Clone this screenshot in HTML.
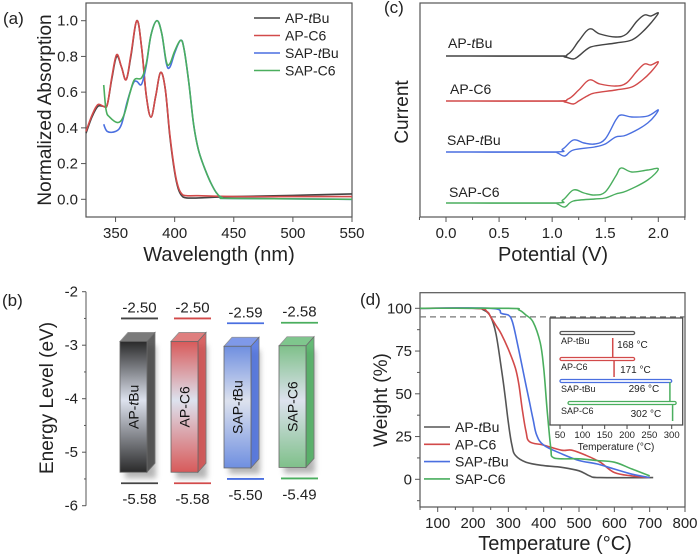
<!DOCTYPE html>
<html><head><meta charset="utf-8"><style>
html,body{margin:0;padding:0;background:#fff;}
svg{display:block;font-family:"Liberation Sans",Arial,sans-serif;}
</style></head><body>
<svg id="fig" width="700" height="555" viewBox="0 0 700 555">
<defs>
<linearGradient id="gK" x1="0" y1="0" x2="0" y2="1"><stop offset="0" stop-color="#2a2a2a"/><stop offset="0.45" stop-color="#dde2ee"/><stop offset="1" stop-color="#2a2a2a"/></linearGradient>
<linearGradient id="gR" x1="0" y1="0" x2="0" y2="1"><stop offset="0" stop-color="#d85a5a"/><stop offset="0.45" stop-color="#dde2ee"/><stop offset="1" stop-color="#d85a5a"/></linearGradient>
<linearGradient id="gB" x1="0" y1="0" x2="0" y2="1"><stop offset="0" stop-color="#6f8fe0"/><stop offset="0.45" stop-color="#dde2ee"/><stop offset="1" stop-color="#6f8fe0"/></linearGradient>
<linearGradient id="gG" x1="0" y1="0" x2="0" y2="1"><stop offset="0" stop-color="#7fc08a"/><stop offset="0.45" stop-color="#dde2ee"/><stop offset="1" stop-color="#7fc08a"/></linearGradient>
<filter id="sh" x="-50%" y="-50%" width="200%" height="200%"><feGaussianBlur stdDeviation="3"/></filter>
</defs>
<g id="pa"></g>
<g id="pb"></g>
<g id="pc"></g>
<g id="pd"></g>
</svg>
<script>
// ---------- data ----------
// (a) absorption
const absAPtBuX=[325,330,335,340,343,347,351,355,359,363,368,372,376,380,384,388,392,396,400,403,406,410,420,450,500,550];
const absAPtBuY=[0.37,0.46,0.52,0.52,0.53,0.68,0.80,0.74,0.67,0.80,1.0,0.85,0.58,0.46,0.58,0.71,0.62,0.35,0.15,0.06,0.02,0.008,0.008,0.015,0.022,0.03];
const absAPC6X=[325,330,335,340,343,347,351,355,359,363,368,372,376,380,384,388,392,396,400,403,406,410,420,450,500,550];
const absAPC6Y=[0.38,0.47,0.53,0.52,0.53,0.69,0.81,0.74,0.67,0.81,1.0,0.85,0.58,0.46,0.58,0.71,0.62,0.36,0.16,0.07,0.03,0.02,0.02,0.015,0.015,0.015];
const absSAPtBuX=[340,343,350,355,360,365,368,372,376,380,385,389,393,396,400,405,408,412,416,420,425,430,435,440,450,550];
const absSAPtBuY=[0.42,0.38,0.38,0.42,0.55,0.65,0.66,0.645,0.75,0.92,1.0,0.93,0.76,0.74,0.82,0.89,0.84,0.65,0.42,0.28,0.18,0.10,0.04,0.01,0.005,0.0];
const absSAPC6X=[340,342,345,352,357,362,366,372,376,380,385,389,393,396,400,405,408,412,416,420,425,430,435,440,450,550];
const absSAPC6Y=[0.64,0.50,0.46,0.43,0.47,0.59,0.67,0.68,0.76,0.92,1.0,0.93,0.77,0.76,0.83,0.89,0.84,0.65,0.42,0.28,0.18,0.10,0.04,0.01,0.005,0.0];
const absXTicks=[350,400,450,500,550];
const absYTicks=[0.0,0.2,0.4,0.6,0.8,1.0];
// (b) energy levels
const molecules=["AP-tBu","AP-C6","SAP-tBu","SAP-C6"];
const lumo=[-2.50,-2.50,-2.59,-2.58];
const homo=[-5.58,-5.58,-5.50,-5.49];
const eTicks=[-2,-3,-4,-5,-6];
// (c) CV: forward/reverse scans, current in arbitrary units
const cvFwdV=[0,1.0,1.15,1.25,1.35,1.45,1.6,1.7,1.8,1.87,1.93,2.0];
const cvAPtBuF=[0,0,2,15,27,22,19,22,35,41,40,43];
const cvAPC6F=[0,0,2,11,21,17,15,18,30,37,36,39];
const cvRevV=[1.93,1.85,1.75,1.6,1.4,1.33,1.25,1.2,1.12,1.0,0];
const cvAPtBuR=[33,24,16,13,10,7,0,-3,-1,0,0];
const cvAPC6R=[29,21,14,11,8,5,0,-3,-1,0,0];
const cvSFwdV=[0,1.0,1.1,1.2,1.3,1.4,1.5,1.6,1.65,1.75,1.9,2.0];
const cvSAPtBuF=[0,0,3,12,9,8,13,32,37,35,36,42];
const cvSAPC6F=[0,0,3,13,10,8,11,27,35,31,33,34];
const cvSRevV=[1.9,1.7,1.6,1.5,1.4,1.2,1.12,1.05,1.0,0.5,0];
const cvSAPtBuR=[29,17,15,8,5,2,-4,-1,0,0,0];
const cvSAPC6R=[23,12,9,5,4,2,-4,-1,0,0,0];
const cvXTicks=[0.0,0.5,1.0,1.5,2.0];
// (d) TGA
const tgaAPtBuX=[50,200,230,250,265,280,290,300,310,320,350,400,450,500,530,560,710];
const tgaAPtBuY=[100,100,99,95,85,65,50,33,20,14,10,8,7,5,2,1,1];
const tgaAPC6X=[50,210,240,250,265,280,300,320,330,340,350,360,400,450,480,520,560,600,650,700];
const tgaAPC6Y=[100,100,98,95,90,85,76,65,55,40,28,22,20,17,17,14,10,4,2,1];
const tgaSAPtBuX=[50,250,280,300,310,320,340,350,360,370,380,400,450,500,550,600,650,700];
const tgaSAPtBuY=[100,100,97,96,93,85,65,55,45,35,26,20,15,11,9,6,3,1];
const tgaSAPC6X=[50,300,330,350,370,390,400,410,420,425,450,500,550,600,650,700];
const tgaSAPC6Y=[100,100,99,96,92,80,65,40,18,13,12,12,11,10,6,2];
const tgaXTicks=[100,200,300,400,500,600,700,800];
const tgaYTicks=[0,25,50,75,100];
// inset DSC
const dscNames=["AP-tBu","AP-C6","SAP-tBu","SAP-C6"];
const dscStart=[50,50,50,68];
const dscEnd=[217,217,300,310];
const dscPeakT=[null,168,null,296];
const dscPeakT2=[null,171,null,302];
const dscXTicks=[50,100,150,200,250,300];

const C={k:"#444",r:"#d24a4a",b:"#4a6fe0",g:"#4aae5e"};
const NS="http://www.w3.org/2000/svg";
function mk(parent,tag,attrs,text){const e=document.createElementNS(NS,tag);for(const k in attrs)e.setAttribute(k,attrs[k]);if(text!==undefined)e.textContent=text;parent.appendChild(e);return e;}
function lin(d0,d1,r0,r1){return v=>r0+(v-d0)*(r1-r0)/(d1-d0);}
function smooth(pts,t){t=t===undefined?0.18:t;let d="M"+pts[0][0].toFixed(1)+","+pts[0][1].toFixed(1);
 for(let i=0;i<pts.length-1;i++){const p0=pts[i-1]||pts[i],p1=pts[i],p2=pts[i+1],p3=pts[i+2]||p2;
  const c1=[p1[0]+(p2[0]-p0[0])*t,p1[1]+(p2[1]-p0[1])*t],c2=[p2[0]-(p3[0]-p1[0])*t,p2[1]-(p3[1]-p1[1])*t];
  d+="C"+c1[0].toFixed(1)+","+c1[1].toFixed(1)+" "+c2[0].toFixed(1)+","+c2[1].toFixed(1)+" "+p2[0].toFixed(1)+","+p2[1].toFixed(1);}
 return d;}
function pathD(xs,ys,sx,sy){return smooth(xs.map((x,i)=>[sx(x),sy(ys[i])]));}

// ---------- panel a ----------
(function(){
const g=document.getElementById('pa');
const sx=lin(325,550,86,352), sy=lin(0,1,199.3,20.7);
let e=mk(g,'rect',{x:86,y:3,width:266,height:214,fill:'none',stroke:'#555','stroke-width':1.2});

absXTicks.forEach(t=>{mk(g,'line',{x1:sx(t),x2:sx(t),y1:217,y2:222,stroke:'#555'});
 e=mk(g,'text',{x:sx(t),y:238,'font-size':15,'text-anchor':'middle',fill:'#222'},String(t));
 });
absYTicks.forEach(t=>{mk(g,'line',{x1:81,x2:86,y1:sy(t),y2:sy(t),stroke:'#555'});
 e=mk(g,'text',{x:78,y:sy(t)+5,'font-size':15,'text-anchor':'end',fill:'#222'},t.toFixed(1));
 });
const series=[[absAPtBuX,absAPtBuY,C.k,'AP-tBu'],[absAPC6X,absAPC6Y,C.r,'AP-C6'],[absSAPtBuX,absSAPtBuY,C.b,'SAP-tBu'],[absSAPC6X,absSAPC6Y,C.g,'SAP-C6']];
series.forEach(s=>{e=mk(g,'path',{d:pathD(s[0],s[1],sx,sy),fill:'none',stroke:s[2],'stroke-width':1.6});
 });
const labs=[['AP-','t','Bu',C.k],['AP-C6','','',C.r],['SAP-','t','Bu',C.b],['SAP-C6','','',C.g]];
labs.forEach((l,i)=>{const y=18+i*17.5;
 mk(g,'line',{x1:254,x2:280,y1:y,y2:y,stroke:l[3],'stroke-width':1.6});
 e=mk(g,'text',{x:285,y:y+5,'font-size':14,fill:'#222'});
 
 mk(e,'tspan',{},l[0]);if(l[1]){mk(e,'tspan',{'font-style':'italic'},l[1]);mk(e,'tspan',{},l[2]);}});
e=mk(g,'text',{x:0,y:0,'font-size':19,'text-anchor':'middle',fill:'#222',transform:'translate(51,110) rotate(-90)'},'Normalized Absorption');

e=mk(g,'text',{x:219,y:261,'font-size':20,'text-anchor':'middle',fill:'#222'},'Wavelength (nm)');

e=mk(g,'text',{x:3,y:24,'font-size':17,fill:'#222'},'(a)');

})();

// ---------- panel b ----------
(function(){
const g=document.getElementById('pb');
const sy=lin(-2,-6,291.7,505.7);
let e=mk(g,'line',{x1:86,x2:86,y1:sy(-2),y2:sy(-6),stroke:'#555'});

eTicks.forEach(t=>{mk(g,'line',{x1:82,x2:86,y1:sy(t),y2:sy(t),stroke:'#555'});
 if(t>-6)mk(g,'line',{x1:84,x2:86,y1:sy(t-0.5),y2:sy(t-0.5),stroke:'#555'});
 e=mk(g,'text',{x:78,y:sy(t)+5,'font-size':15,'text-anchor':'end',fill:'#222'},String(t));
 });
e=mk(g,'text',{x:0,y:0,'font-size':19,'text-anchor':'middle',fill:'#222',transform:'translate(53,398) rotate(-90)'},'Energy Level (eV)');

e=mk(g,'text',{x:2,y:306,'font-size':17,fill:'#222'},'(b)');

const cols=[C.k,C.r,C.b,C.g], grads=['gK','gR','gB','gG'];
const lineX=[121,174,227,281];
const bx=[120,171,224,279];
molecules.forEach((m,i)=>{
 const x=bx[i], w=27, top=sy(lumo[i])+23, bot=sy(homo[i])-11, dx=8, dy=9;
 mk(g,'rect',{x:x+5,y:top+4,width:w+4,height:bot-top+2,fill:'#777',opacity:0.55,filter:'url(#sh)'});
 e=mk(g,'polygon',{points:`${x},${top} ${x+dx},${top-dy} ${x+w+dx},${top-dy} ${x+w},${top}`,fill:cols[i],opacity:0.7,stroke:'#666','stroke-width':0.8});
 
 e=mk(g,'polygon',{points:`${x+w},${top} ${x+w+dx},${top-dy} ${x+w+dx},${bot-dy} ${x+w},${bot}`,fill:cols[i],opacity:0.85,stroke:'#666','stroke-width':0.8});
 
 e=mk(g,'rect',{x:x,y:top,width:w,height:bot-top,fill:`url(#${grads[i]})`,stroke:'#666','stroke-width':0.8});
 
 const cx=x+w/2, cy=(top+bot)/2;
 e=mk(g,'text',{x:0,y:0,'font-size':14,'text-anchor':'middle',fill:'#111',transform:`translate(${cx+5},${cy}) rotate(-90)`});
 
 if(m.indexOf('tBu')>=0){mk(e,'tspan',{},m.replace('tBu',''));mk(e,'tspan',{'font-style':'italic'},'t');mk(e,'tspan',{},'Bu');} else e.textContent=m;
 const lx=lineX[i];
 e=mk(g,'line',{x1:lx,x2:lx+37,y1:sy(lumo[i]),y2:sy(lumo[i]),stroke:cols[i],'stroke-width':1.8});
 
 e=mk(g,'line',{x1:lx,x2:lx+37,y1:sy(homo[i]),y2:sy(homo[i]),stroke:cols[i],'stroke-width':1.8});
 
 e=mk(g,'text',{x:lx+18.5,y:sy(lumo[i])-6,'font-size':15,'text-anchor':'middle',fill:'#222'},lumo[i].toFixed(2));
 
 e=mk(g,'text',{x:lx+18.5,y:sy(homo[i])+21,'font-size':15,'text-anchor':'middle',fill:'#222'},homo[i].toFixed(2));
 
});
})();

// ---------- panel c ----------
(function(){
const g=document.getElementById('pc');
const sx=lin(0,2,446,658.3);
let e=mk(g,'rect',{x:420,y:3,width:265,height:214,fill:'none',stroke:'#555','stroke-width':1.2});

cvXTicks.forEach(t=>{mk(g,'line',{x1:sx(t),x2:sx(t),y1:217,y2:222,stroke:'#555'});
 mk(g,'line',{x1:sx(t+0.25),x2:sx(t+0.25),y1:217,y2:220,stroke:'#555'});
 e=mk(g,'text',{x:sx(t),y:238,'font-size':15,'text-anchor':'middle',fill:'#222'},t.toFixed(1));
 });
mk(g,'line',{x1:sx(-0.25),x2:sx(-0.25),y1:217,y2:220,stroke:'#555'});
const base=[56,101,152,203];
const cv=[[cvFwdV,cvAPtBuF,cvRevV,cvAPtBuR,C.k,'ap-tbu'],[cvFwdV,cvAPC6F,cvRevV,cvAPC6R,C.r,'ap-c6'],[cvSFwdV,cvSAPtBuF,cvSRevV,cvSAPtBuR,C.b,'sap-tbu'],[cvSFwdV,cvSAPC6F,cvSRevV,cvSAPC6R,C.g,'sap-c6']];
cv.forEach((c,i)=>{const sy=v=>base[i]-v;
 const pts=c[0].map((v,j)=>[sx(v),sy(c[1][j])]).concat(c[2].map((v,j)=>[sx(v),sy(c[3][j])]));
 e=mk(g,'path',{d:smooth(pts),fill:'none',stroke:c[4],'stroke-width':1.4,'stroke-linejoin':'round'});
 });
const lab=[[448,48,'AP-','t','Bu'],[450,94,'AP-C6','',''],[447,145,'SAP-','t','Bu'],[449,197,'SAP-C6','','']];
lab.forEach(l=>{e=mk(g,'text',{x:l[0],y:l[1],'font-size':14,fill:'#222'});
 
 mk(e,'tspan',{},l[2]);if(l[3]){mk(e,'tspan',{'font-style':'italic'},l[3]);mk(e,'tspan',{},l[4]);}});
e=mk(g,'text',{x:0,y:0,'font-size':19,'text-anchor':'middle',fill:'#222',transform:'translate(408,112) rotate(-90)'},'Current');

e=mk(g,'text',{x:553,y:261,'font-size':20,'text-anchor':'middle',fill:'#222'},'Potential (V)');

e=mk(g,'text',{x:384,y:13,'font-size':17,fill:'#222'},'(c)');

})();

// ---------- panel d ----------
(function(){
const g=document.getElementById('pd');
const sx=lin(100,800,437.7,685), sy=lin(0,100,479.3,308.3);
let e=mk(g,'rect',{x:420,y:292.7,width:265,height:214.3,fill:'none',stroke:'#555','stroke-width':1.2});

tgaXTicks.forEach(t=>{mk(g,'line',{x1:sx(t),x2:sx(t),y1:507,y2:512,stroke:'#555'});
 mk(g,'line',{x1:sx(t-50),x2:sx(t-50),y1:507,y2:510,stroke:'#555'});
 e=mk(g,'text',{x:sx(t),y:528,'font-size':15,'text-anchor':'middle',fill:'#222'},String(t));
 });
tgaYTicks.forEach(t=>{mk(g,'line',{x1:415,x2:420,y1:sy(t),y2:sy(t),stroke:'#555'});
 mk(g,'line',{x1:417,x2:420,y1:sy(t-12.5),y2:sy(t-12.5),stroke:'#555'});
 e=mk(g,'text',{x:412,y:sy(t)+5,'font-size':15,'text-anchor':'end',fill:'#222'},String(t));
 });
e=mk(g,'line',{x1:420,x2:685,y1:sy(95),y2:sy(95),stroke:'#777','stroke-dasharray':'6,4','stroke-width':1.2});

const S=[[tgaAPtBuX,tgaAPtBuY,'#555','ap-tbu'],[tgaAPC6X,tgaAPC6Y,C.r,'ap-c6'],[tgaSAPtBuX,tgaSAPtBuY,C.b,'sap-tbu'],[tgaSAPC6X,tgaSAPC6Y,C.g,'sap-c6']];
S.forEach(s=>{e=mk(g,'path',{d:pathD(s[0],s[1],sx,sy),fill:'none',stroke:s[2],'stroke-width':1.6});
 });
const labs=[['AP-','t','Bu','#555'],['AP-C6','','',C.r],['SAP-','t','Bu',C.b],['SAP-C6','','',C.g]];
labs.forEach((l,i)=>{const y=427+i*17.3;
 mk(g,'line',{x1:424,x2:450,y1:y,y2:y,stroke:l[3],'stroke-width':1.6});
 e=mk(g,'text',{x:455,y:y+5,'font-size':14,fill:'#222'});
 
 mk(e,'tspan',{},l[0]);if(l[1]){mk(e,'tspan',{'font-style':'italic'},l[1]);mk(e,'tspan',{},l[2]);}});
e=mk(g,'text',{x:0,y:0,'font-size':19,'text-anchor':'middle',fill:'#222',transform:'translate(387,400) rotate(-90)'},'Weight (%)');

e=mk(g,'text',{x:555,y:550,'font-size':20,'text-anchor':'middle',fill:'#222'},'Temperature (°C)');

e=mk(g,'text',{x:360,y:305,'font-size':17,fill:'#222'},'(d)');

// inset
const ix=lin(50,300,560,671.7);
e=mk(g,'rect',{x:550,y:318,width:132.7,height:107,fill:'#fff',stroke:'#444','stroke-width':1.2});

dscXTicks.forEach(t=>{mk(g,'line',{x1:ix(t),x2:ix(t),y1:425,y2:429,stroke:'#444'});
 e=mk(g,'text',{x:ix(t),y:438,'font-size':9.5,'text-anchor':'middle',fill:'#222'},String(t));
 });
e=mk(g,'text',{x:616,y:450,'font-size':10,'text-anchor':'middle',fill:'#222'},'Temperature (°C)');

const iy=[333,359,381,403], icol=['#555',C.r,C.b,C.g];
dscNames.forEach((n,i)=>{
 e=mk(g,'rect',{x:ix(dscStart[i]),y:iy[i]-1.5,width:ix(dscEnd[i])-ix(dscStart[i]),height:3,rx:1.5,fill:'none',stroke:icol[i],'stroke-width':1.3});
 
 if(dscPeakT[i]!==null){
  e=mk(g,'line',{x1:ix(dscPeakT[i]),x2:ix(dscPeakT[i]),y1:iy[i]-1.5,y2:iy[i]-21,stroke:icol[i],'stroke-width':1.5});
  
  e=mk(g,'line',{x1:ix(dscPeakT2[i]),x2:ix(dscPeakT2[i]),y1:iy[i]+1.5,y2:iy[i]+18,stroke:icol[i],'stroke-width':1.5});
  
  e=mk(g,'text',{x:ix(dscPeakT2[i])+(i==1?3:-44),y:iy[i]-11,'font-size':10,fill:'#222'},dscPeakT[i]+' °C');
  
  e=mk(g,'text',{x:ix(dscPeakT2[i])+(i==1?6:-42),y:iy[i]+14,'font-size':10,fill:'#222'},dscPeakT2[i]+' °C');
  }
 e=mk(g,'text',{x:561,y:iy[i]+11,'font-size':9,fill:'#222'},n);
 
});
})();
</script>
</body></html>
